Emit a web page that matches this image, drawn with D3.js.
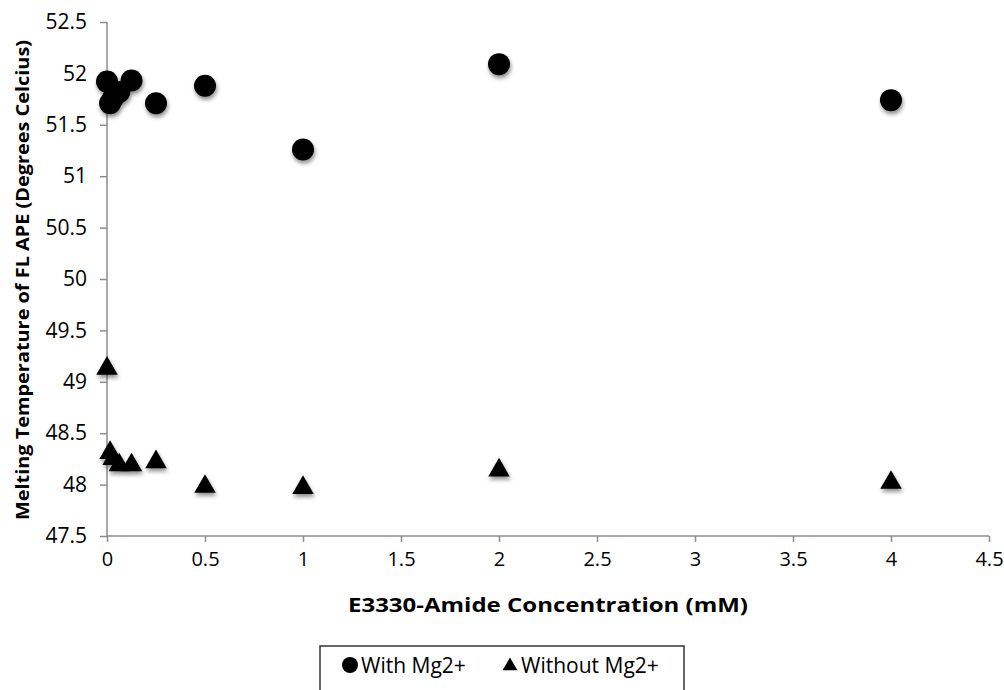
<!DOCTYPE html>
<html>
<head>
<meta charset="utf-8">
<script src="https://d3js.org/d3.v7.min.js"></script>
<style>
  body { margin: 0; background: #fff; }
  svg { display: block; }
  .tick text { fill: #000; }
</style>
</head>
<body>
<script>
// concentrations (mM) and melting temperatures
var conc = [0, 0.0156, 0.03125, 0.0625, 0.125, 0.25, 0.5, 1, 2, 4];
var withMg = [51.92, 51.71, 51.76, 51.82, 51.93, 51.71, 51.88, 51.26, 52.09, 51.74];
var withoutMg = [49.13, 48.31, 48.25, 48.19, 48.19, 48.22, 47.98, 47.97, 48.14, 48.02];
var xTicks = [0, 0.5, 1, 1.5, 2, 2.5, 3, 3.5, 4, 4.5];
var yTicks = [47.5, 48, 48.5, 49, 49.5, 50, 50.5, 51, 51.5, 52, 52.5];
var seriesNames = ["With Mg2+", "Without Mg2+"];

var width = 1004, height = 690;
var margin = {left: 107, right: 15, top: 22, bottom: 154};

var svg = d3.select("body").append("svg")
  .attr("width", width)
  .attr("height", height);

// soft shadow under the markers, like excel does
var defs = svg.append("defs");
var f = defs.append("filter").attr("id", "shadow")
  .attr("x", "-50%").attr("y", "-50%").attr("width", "200%").attr("height", "200%");
f.append("feGaussianBlur").attr("in", "SourceAlpha").attr("stdDeviation", 2).attr("result", "b");
f.append("feOffset").attr("in", "b").attr("dx", 1).attr("dy", 3).attr("result", "o");
f.append("feComponentTransfer").attr("in", "o").attr("result", "o2")
  .append("feFuncA").attr("type", "linear").attr("slope", 0.45);
var m = f.append("feMerge");
m.append("feMergeNode").attr("in", "o2");
m.append("feMergeNode").attr("in", "SourceGraphic");

var x = d3.scaleLinear()
  .domain([0, 4.5])
  .range([margin.left, 989]);
var y = d3.scaleLinear()
  .domain([47.5, 52.5])
  .range([536, margin.top]);

var xAxis = d3.axisBottom(x)
  .tickValues(xTicks)
  .tickSize(6)
  .tickPadding(10)
  .tickFormat(d => d);
var yAxis = d3.axisLeft(y)
  .tickValues(yTicks)
  .tickSize(7)
  .tickPadding(13)
  .tickFormat(d => d);

var gx = svg.append("g")
  .attr("transform", "translate(0," + y(47.5) + ")")
  .call(xAxis);
gx.selectAll("text")
  .style("font-family", "'Open Sans', sans-serif")
  .style("font-size", "20px");

var gy = svg.append("g")
  .attr("transform", "translate(" + x(0) + ",0)")
  .call(yAxis);
gy.selectAll("text")
  .style("font-family", "'Open Sans', sans-serif")
  .style("font-size", "21px");

svg.selectAll(".domain, .tick line")
  .attr("stroke", "#8c8c8c")
  .attr("stroke-width", 1.5);
// remove the outer end cap of the domain paths
gx.select(".domain").attr("d", "M" + x(0) + ",0H" + x(4.5));
gy.select(".domain").attr("d", "M0," + y(47.5) + "V" + y(52.5));

// axis titles
svg.append("text")
  .attr("x", 548)
  .attr("y", 612)
  .attr("text-anchor", "middle")
  .attr("textLength", 400)
  .attr("lengthAdjust", "spacingAndGlyphs")
  .style("font-family", "'Open Sans', sans-serif")
  .style("font-weight", "bold")
  .style("font-size", "20px")
  .text("E3330-Amide Concentration (mM)");

svg.append("text")
  .attr("transform", "translate(29,280) rotate(-90)")
  .attr("text-anchor", "middle")
  .attr("textLength", 480)
  .attr("lengthAdjust", "spacingAndGlyphs")
  .style("font-family", "'Open Sans', sans-serif")
  .style("font-weight", "bold")
  .style("font-size", "18px")
  .text("Melting Temperature of FL APE (Degrees Celcius)");

var tri = d3.symbol().type(d3.symbolTriangle).size(200);

var pts = svg.append("g").attr("filter", "url(#shadow)");

pts.selectAll("path.tri")
  .data(conc)
  .enter().append("path")
    .attr("class", "tri")
    .attr("d", tri)
    .attr("transform", (d, i) => "translate(" + x(d) + "," + y(withoutMg[i]) + ")")
    .attr("fill", "#000");

pts.selectAll("circle")
  .data(conc)
  .enter().append("circle")
    .attr("cx", d => x(d))
    .attr("cy", (d, i) => y(withMg[i]))
    .attr("r", 11)
    .attr("fill", "#000");

// legend
var leg = svg.append("g");
leg.append("rect")
  .attr("x", 320).attr("y", 646)
  .attr("width", 364).attr("height", 60)
  .attr("fill", "#fff")
  .attr("stroke", "#333")
  .attr("stroke-width", 1.5);

leg.append("circle")
  .attr("cx", 350).attr("cy", 665).attr("r", 8)
  .attr("fill", "#000");
leg.append("path")
  .attr("d", d3.symbol().type(d3.symbolTriangle).size(95))
  .attr("transform", "translate(510,666)")
  .attr("fill", "#000");

leg.selectAll("text")
  .data(seriesNames)
  .enter().append("text")
    .attr("x", (d, i) => i == 0 ? 361 : 521)
    .attr("y", 673)
    .style("font-family", "'Open Sans', sans-serif")
    .style("font-size", "21px")
    .text(d => d);
</script>
</body>
</html>
